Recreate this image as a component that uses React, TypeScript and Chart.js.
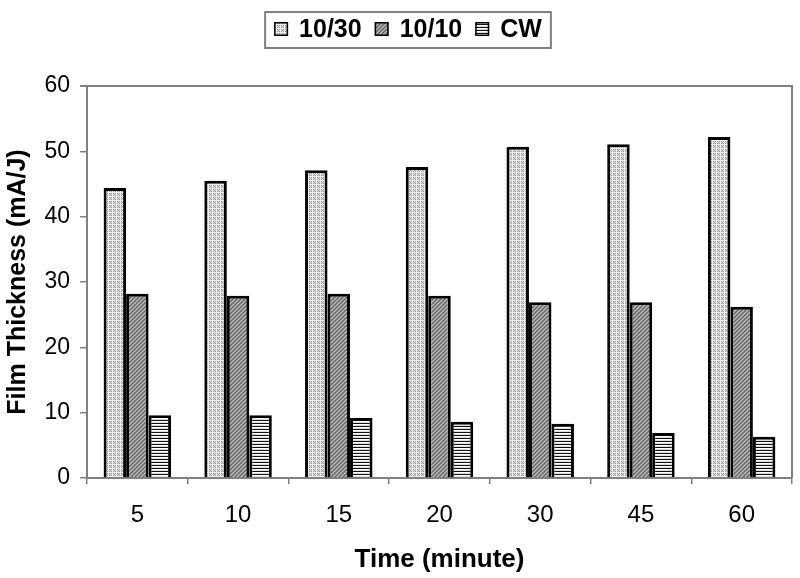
import React, { useEffect, useRef } from "react";
import { Chart, registerables } from "chart.js";

Chart.register(...registerables);

const categories = ["5", "10", "15", "20", "30", "45", "60"];
const seriesNames = ["10/30", "10/10", "CW"];
const values1030 = [44.4, 45.5, 47.1, 47.6, 50.7, 51.1, 52.2];
const values1010 = [28.2, 27.9, 28.2, 27.9, 26.9, 26.9, 26.2];
const valuesCW = [9.6, 9.6, 9.2, 8.6, 8.3, 6.9, 6.3];
const yTicks = [0, 10, 20, 30, 40, 50, 60];

const FONT = "'Liberation Sans', Arial, sans-serif";

function makePattern(kind: string): CanvasPattern | string {
  const c = document.createElement("canvas");
  const ctx = c.getContext("2d");
  if (!ctx) return "#ccc";
  if (kind === "grid") {
    c.width = 4; c.height = 4;
    for (let y = 0; y < 4; y++) for (let x = 0; x < 4; x++) {
      let col = (x + y) % 2 === 0 ? "#9c9c9c" : "#dadada";
      if (x === 0 || y === 0) col = "#eeeeee";
      ctx.fillStyle = col; ctx.fillRect(x, y, 1, 1);
    }
  } else if (kind === "diag") {
    c.width = 4; c.height = 4;
    for (let y = 0; y < 4; y++) for (let x = 0; x < 4; x++) {
      let col = (x + y) % 2 === 0 ? "#888888" : "#c6c6c6";
      if ((x + y) % 4 === 3) col = "#6a6a6a";
      ctx.fillStyle = col; ctx.fillRect(x, y, 1, 1);
    }
  } else {
    c.width = 3; c.height = 3;
    ctx.fillStyle = "#ffffff"; ctx.fillRect(0, 0, 3, 3);
    ctx.fillStyle = "#dcdcdc"; ctx.fillRect(0, 2, 3, 1);
    ctx.fillStyle = "#111111"; ctx.fillRect(0, 0, 3, 1);
  }
  return ctx.createPattern(c, "repeat") as CanvasPattern;
}

const frameAndLegend = {
  id: "frameAndLegend",
  afterDraw(chart: any) {
    const { ctx, chartArea } = chart;
    ctx.save();
    ctx.strokeStyle = "#808080";
    ctx.lineWidth = 2;
    ctx.beginPath();
    ctx.moveTo(chartArea.left - 7, chartArea.top);
    ctx.lineTo(chartArea.right, chartArea.top);
    ctx.lineTo(chartArea.right, chartArea.bottom);
    ctx.stroke();

    // legend
    ctx.font = "bold 25px " + FONT;
    const ds = chart.data.datasets;
    const box = 14, gapAfterBox = 11, gapItems = 13, padX = 9;
    const widths = ds.map((d: any) => ctx.measureText(d.label).width);
    let total = padX * 2;
    widths.forEach((w: number, i: number) => {
      total += box + gapAfterBox + w + (i < ds.length - 1 ? gapItems : 0);
    });
    const cx = 408;
    const top = 12, h = 36;
    let x = cx - total / 2;
    ctx.strokeStyle = "#808080";
    ctx.lineWidth = 2;
    ctx.strokeRect(x, top, total, h);
    x += padX;
    const midY = top + h / 2 - 1;
    ds.forEach((d: any, i: number) => {
      ctx.fillStyle = d.backgroundColor;
      ctx.fillRect(x, midY - box / 2, box, box);
      ctx.strokeStyle = "#000";
      ctx.lineWidth = 1.5;
      ctx.strokeRect(x + 0.75, midY - box / 2 + 0.75, box - 1.5, box - 1.5);
      x += box + gapAfterBox;
      ctx.fillStyle = "#000";
      ctx.textBaseline = "middle";
      ctx.textAlign = "left";
      ctx.fillText(d.label, x, midY + 1);
      x += widths[i] + gapItems;
    });
    ctx.restore();
  },
};

export default function App() {
  const ref = useRef<HTMLCanvasElement | null>(null);
  useEffect(() => {
    document.body.style.margin = "0";
    const canvas = ref.current;
    if (!canvas) return;
    const patterns = [makePattern("grid"), makePattern("diag"), makePattern("hstripe")];
    const seriesValues = [values1030, values1010, valuesCW];
    const chart = new Chart(canvas, {
      type: "bar",
      data: {
        labels: categories,
        datasets: seriesNames.map((name, i) => ({
          label: name,
          data: seriesValues[i],
          backgroundColor: patterns[i] as any,
          borderColor: "#000000",
          borderWidth: 3,
          borderSkipped: "start",
          categoryPercentage: 0.67,
          barPercentage: 1.0,
        })),
      },
      options: {
        animation: false,
        responsive: false,
        devicePixelRatio: 1,
        layout: { padding: { top: 86, right: 8, bottom: 0, left: 0 } },
        plugins: {
          legend: { display: false },
          tooltip: { enabled: false },
        },
        scales: {
          x: {
            offset: true,
            grid: {
              offset: true,
              drawOnChartArea: false,
              drawTicks: true,
              tickLength: 6,
              color: "#808080",
              lineWidth: 1.5,
            },
            border: { color: "#808080", width: 2 },
            ticks: {
              color: "#000",
              font: { family: FONT, size: 24 },
              padding: 17,
              maxRotation: 0,
            },
            title: {
              display: true,
              text: "Time (minute)",
              color: "#000",
              font: { family: FONT, size: 26, weight: "bold" },
              padding: { top: 0, bottom: 3 },
            },
            afterFit: (s: any) => { s.height = 100; },
          },
          y: {
            min: 0,
            max: 60,
            afterBuildTicks: (s: any) => { s.ticks = yTicks.map((v) => ({ value: v })); },
            grid: {
              drawOnChartArea: false,
              drawTicks: true,
              tickLength: 7,
              color: "#808080",
              lineWidth: 1.5,
            },
            border: { color: "#808080", width: 2 },
            ticks: {
              color: "#000",
              font: { family: FONT, size: 23 },
              padding: 10,
            },
            title: {
              display: true,
              text: "Film Thickness (mA/J)",
              color: "#000",
              font: { family: FONT, size: 25, weight: "bold" },
              padding: { top: 3, bottom: 0 },
            },
            afterFit: (s: any) => { s.width = 87; },
          },
        },
      },
      plugins: [frameAndLegend],
    });
    return () => chart.destroy();
  }, []);
  return (
    <div style={{ position: "absolute", left: 0, top: 0, width: 800, height: 578 }}>
      <canvas ref={ref} width={800} height={578} />
    </div>
  );
}
